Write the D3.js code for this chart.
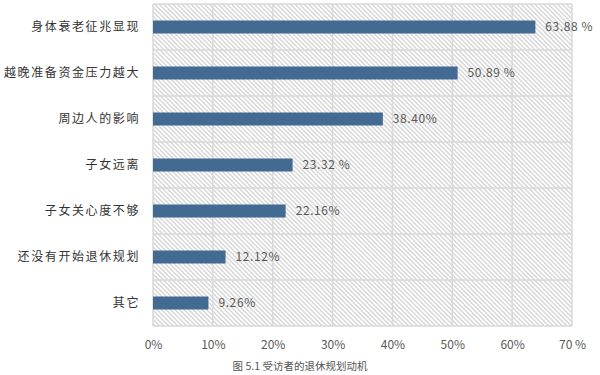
<!DOCTYPE html>
<html><head><meta charset="utf-8">
<script src="https://cdn.jsdelivr.net/npm/d3@7"></script>
<style>body{margin:0;background:#fff}svg{display:block}</style>
</head><body>
<script>
const categories = ["身体衰老征兆显现","越晚准备资金压力越大","周边人的影响","子女远离","子女关心度不够","还没有开始退休规划","其它"];
const values = [63.88, 50.89, 38.40, 23.32, 22.16, 12.12, 9.26];
const valueLabels = ["63.88 %","50.89 %","38.40%","23.32 %","22.16%","12.12%","9.26%"];
const tickValues = [0,10,20,30,40,50,60,70];
const tickLabels = ["0%","10%","20%","30%","40%","50%","60%","70 %"];
const caption = "图 5.1 受访者的退休规划动机";

const W = 600, H = 375;
const m = {left:153, right:28, top:4, bottom:49};
const svg = d3.select("body").append("svg").attr("width",W).attr("height",H)
  .style("font-family","'Noto Sans CJK SC','Noto Sans',sans-serif");

const x = d3.scaleLinear().domain([0,70]).range([m.left, W-m.right]);
const y = d3.scaleBand().domain(categories).range([m.top, H-m.bottom]).paddingInner(0).paddingOuter(0);

const defs = svg.append("defs");
const pat = defs.append("pattern").attr("id","hatch").attr("patternUnits","userSpaceOnUse")
  .attr("width",3.2).attr("height",10).attr("patternTransform","rotate(-45)");
pat.append("rect").attr("width",3.2).attr("height",10).attr("fill","#fff");
pat.append("line").attr("x1",0.8).attr("x2",0.8).attr("y1",0).attr("y2",10)
  .attr("stroke","#c4c4c4").attr("stroke-width",1);

svg.append("rect").attr("x",x(0)).attr("y",m.top).attr("width",x(70)-x(0)).attr("height",H-m.bottom-m.top)
  .attr("fill","url(#hatch)");

const grid = svg.append("g").attr("stroke","#d9d9d9").attr("stroke-width",1.5).attr("fill","none");
grid.selectAll(".v").data(tickValues).join("line")
  .attr("x1",d=>x(d)).attr("x2",d=>x(d)).attr("y1",m.top).attr("y2",H-m.bottom);
const hs = categories.map(c=>y(c)).concat([H-m.bottom]);
grid.selectAll(".h").data(hs).join("line")
  .attr("x1",x(0)).attr("x2",x(70)).attr("y1",d=>d).attr("y2",d=>d);

const bh = 13;
svg.append("g").selectAll("rect").data(values).join("rect")
  .attr("x",x(0)).attr("y",(d,i)=>y(categories[i])+y.bandwidth()/2-bh/2)
  .attr("width",d=>x(d)-x(0)).attr("height",bh).attr("fill","#436a93");

svg.append("g").selectAll("text").data(values).join("text")
  .attr("x",d=>x(d)+10).attr("y",(d,i)=>y(categories[i])+y.bandwidth()/2)
  .attr("dy","0.35em").attr("font-size",12).attr("letter-spacing","0.6px").attr("fill","#595959")
  .text((d,i)=>valueLabels[i]);

svg.append("g").selectAll("text").data(categories).join("text")
  .attr("x",140).attr("y",d=>y(d)+y.bandwidth()/2).attr("dy","0.35em")
  .attr("text-anchor","end").attr("font-size",12).attr("letter-spacing","1.6px")
  .attr("fill","#333").text(d=>d);

const axis = d3.axisBottom(x).tickValues(tickValues).tickFormat((d,i)=>tickLabels[i]).tickSize(0).tickPadding(14);
const ax = svg.append("g").attr("transform",`translate(0,${H-m.bottom})`).call(axis);
ax.select(".domain").remove();
ax.selectAll("text").attr("font-size",12).attr("fill","#595959")
  .style("font-family","'Noto Sans CJK SC','Noto Sans',sans-serif");

svg.append("text").attr("x",300).attr("y",370).attr("text-anchor","middle")
  .attr("font-size",10.5).attr("fill","#555").text(caption);
</script>
</body></html>
